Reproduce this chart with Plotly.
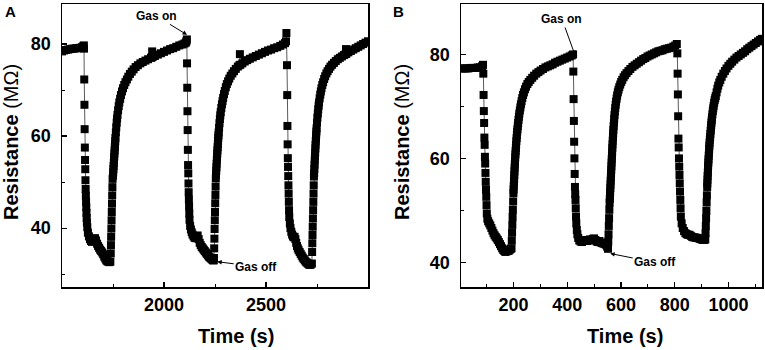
import plotly.graph_objects as go

# ---------------- data ----------------
# Panel A: (time s, resistance MOhm)
PANEL_A = [
    (1500, 78.4), (1510, 78.6), (1520, 78.7), (1530, 78.8), (1540, 78.9), (1550, 79.0), (1560, 79.0),
    (1570, 79.1), (1580, 79.1), (1590, 79.2), (1598, 79.3), (1604, 79.5), (1607, 79.7),
    (1608, 79.0), (1609, 72.3), (1610, 66.8), (1611, 61.5), (1612, 57.5), (1613, 54.8), (1614, 52.8),
    (1615, 50.4), (1616, 48.5), (1617, 47.0), (1618, 45.7), (1619, 44.5), (1620, 43.3), (1621, 42.2),
    (1622, 41.2), (1624, 40.2),
    (1627, 39.0), (1632, 38.2), (1637, 37.6), (1642, 37.2), (1647, 37.0), (1652, 37.3), (1657, 37.7),
    (1662, 37.8), (1667, 37.3), (1672, 36.6), (1677, 36.1), (1682, 35.7), (1687, 35.3), (1692, 35.0),
    (1697, 34.7), (1702, 34.3), (1707, 33.8), (1712, 33.4), (1717, 33.0), (1722, 32.8), (1727, 32.7),
    (1732, 32.6), (1737, 32.7),
    (1739, 34.5), (1740, 36.3), (1741, 38.1), (1742, 39.9), (1743, 41.7), (1744, 43.5), (1745, 45.3),
    (1746, 47.1), (1747, 48.9), (1748, 50.7),
    (1750, 51.4), (1751, 52.1), (1752, 52.8), (1753, 53.5), (1754, 54.2), (1755, 54.9), (1756, 55.5),
    (1757, 56.2), (1758, 56.9), (1759, 57.6), (1760, 58.2), (1761, 58.9), (1762, 59.6), (1764, 60.8),
    (1766, 61.9), (1768, 62.9), (1770, 63.8), (1772, 64.6), (1775, 65.6), (1778, 66.5), (1781, 67.3),
    (1785, 68.1), (1789, 68.9), (1794, 69.7), (1799, 70.4), (1805, 71.1), (1811, 71.7), (1818, 72.3),
    (1825, 72.9), (1833, 73.5), (1842, 74.0), (1851, 74.5), (1861, 75.0), (1872, 75.4), (1884, 75.8),
    (1896, 76.1), (1909, 76.4), (1922, 76.7), (1936, 77.0), (1940, 77.1), (1942, 78.4), (1944, 77.2),
    (1955, 77.4), (1970, 77.7), (1985, 78.0), (2000, 78.3), (2015, 78.6), (2030, 78.9), (2045, 79.1),
    (2060, 79.4), (2075, 79.7), (2090, 79.9), (2100, 80.1), (2107, 80.3), (2110, 80.6), (2112, 81.0),
    (2113, 75.8), (2114, 70.5), (2115, 65.4), (2116, 61.3), (2117, 57.0), (2118, 53.7), (2119, 51.9),
    (2120, 49.7), (2121, 47.8), (2122, 46.2), (2123, 44.7), (2124, 43.2), (2125, 41.8),
    (2128, 40.5), (2132, 39.7), (2136, 39.1), (2140, 38.6), (2145, 38.2), (2150, 37.9), (2155, 37.8),
    (2160, 38.2), (2165, 38.4), (2170, 37.6), (2175, 36.8), (2180, 36.3), (2185, 35.9), (2190, 35.6),
    (2195, 35.3), (2200, 35.0), (2205, 34.7), (2210, 34.4), (2215, 34.1), (2220, 33.8), (2225, 33.6),
    (2230, 33.4), (2235, 33.2), (2240, 33.0), (2244, 33.0),
    (2245, 33.5), (2246, 35.6), (2247, 37.7), (2248, 39.8), (2249, 41.7), (2250, 43.5), (2251, 45.4),
    (2252, 47.2), (2253, 49.0), (2254, 50.8),
    (2255, 51.6), (2256, 52.4), (2257, 53.2), (2258, 54.0), (2259, 54.8), (2260, 55.5), (2261, 56.2),
    (2262, 56.9), (2263, 57.6), (2264, 58.3), (2265, 58.9), (2266, 59.6), (2267, 60.2), (2268, 60.8),
    (2270, 61.8), (2272, 62.8), (2274, 63.7), (2276, 64.5), (2278, 65.2), (2281, 66.1), (2284, 66.9),
    (2287, 67.6), (2290, 68.3), (2294, 69.1), (2298, 69.8), (2303, 70.6), (2308, 71.3), (2314, 71.9),
    (2320, 72.5), (2327, 73.1), (2335, 73.6), (2343, 74.1), (2352, 74.6), (2362, 75.1), (2370, 75.4),
    (2372, 77.8), (2374, 75.5), (2384, 75.8), (2396, 76.2), (2408, 76.5), (2421, 76.8), (2435, 77.1),
    (2450, 77.4), (2465, 77.7), (2480, 78.0), (2495, 78.3), (2510, 78.6), (2525, 78.8), (2540, 79.1),
    (2555, 79.3), (2570, 79.6), (2583, 79.9), (2593, 80.2), (2598, 80.6), (2600, 82.4),
    (2603, 75.4), (2604, 68.9), (2605, 62.2), (2606, 58.2), (2607, 55.2), (2608, 53.3), (2609, 51.3),
    (2610, 49.3), (2611, 47.5), (2612, 45.7), (2613, 43.9), (2614, 42.4),
    (2617, 41.0), (2620, 40.0), (2624, 39.2), (2628, 38.6), (2632, 38.2), (2636, 38.0), (2640, 38.1),
    (2644, 37.6), (2648, 36.8), (2652, 36.1), (2656, 35.6), (2660, 35.2), (2665, 34.8), (2670, 34.4),
    (2675, 34.0), (2680, 33.6), (2685, 33.3), (2690, 33.0), (2695, 32.7), (2700, 32.5), (2705, 32.3),
    (2710, 32.1), (2715, 32.0), (2720, 32.1), (2725, 32.3),
    (2726, 34.8), (2727, 36.7), (2728, 38.5), (2729, 40.3), (2730, 42.1), (2731, 43.9), (2732, 45.7),
    (2733, 47.5), (2734, 49.3), (2735, 51.2),
    (2736, 52.0), (2737, 52.9), (2738, 53.8), (2739, 54.7), (2740, 55.6), (2741, 56.4), (2742, 57.3),
    (2743, 58.1), (2744, 58.9), (2745, 59.6), (2746, 60.3), (2747, 61.0), (2748, 61.7), (2750, 62.9),
    (2752, 64.0), (2754, 64.9), (2756, 65.8), (2758, 66.6), (2760, 67.3), (2763, 68.2), (2766, 69.0),
    (2769, 69.7), (2772, 70.4), (2776, 71.1), (2780, 71.7), (2785, 72.4), (2790, 73.0), (2796, 73.6),
    (2802, 74.1), (2809, 74.6), (2816, 75.1), (2824, 75.5), (2833, 75.9), (2842, 76.3), (2852, 76.7),
    (2862, 77.0), (2872, 77.3), (2882, 77.6), (2890, 77.8), (2892, 78.9), (2894, 77.9), (2904, 78.2),
    (2916, 78.5), (2928, 78.8), (2940, 79.1), (2952, 79.4), (2964, 79.7), (2976, 80.0), (2988, 80.3),
    (3000, 80.6),
]

# Panel B: (time s, resistance MOhm)
PANEL_B = [
    (5, 77.3), (14, 77.3), (23, 77.3), (32, 77.3), (41, 77.4), (50, 77.4), (59, 77.4), (68, 77.5),
    (76, 77.5), (83, 77.7), (87, 78.0),
    (88, 76.3), (89, 72.2), (90, 69.1), (91, 66.8), (92, 64.0), (93, 62.6), (94, 60.3), (95, 59.0),
    (96, 57.2), (97, 55.5), (98, 54.0), (99, 52.6), (100, 51.0), (101, 49.4),
    (103, 48.4), (106, 47.9), (110, 47.5), (114, 47.1), (118, 46.6), (122, 46.1), (126, 45.6),
    (130, 45.2), (134, 44.9), (138, 44.6), (142, 44.3), (146, 43.9), (150, 43.5), (154, 43.1),
    (158, 42.7), (162, 42.4), (166, 42.2), (170, 42.0), (174, 42.1), (178, 42.3), (182, 42.2),
    (186, 42.4), (190, 42.6), (193, 42.7),
    (194, 44.2), (195, 45.7), (196, 47.2), (197, 48.7), (198, 50.1), (199, 51.7), (200, 53.3),
    (200.7, 54.0), (201.3, 54.7), (202, 55.4), (202.7, 56.1), (203.3, 56.8), (204, 57.5), (204.7, 58.2),
    (205.3, 58.9), (206, 59.5), (206.8, 60.2), (207.6, 60.8), (208.4, 61.4), (209.2, 62.0), (210, 62.6),
    (211, 63.3), (212, 63.9), (213, 64.5), (214, 65.1), (215, 65.6), (216.3, 66.2), (217.6, 66.8),
    (219, 67.4), (220.5, 68.0), (222, 68.6), (224, 69.2), (226, 69.8), (228, 70.4), (230.5, 71.0),
    (233, 71.6), (236, 72.2), (239, 72.7), (243, 73.3), (247, 73.8), (252, 74.3), (257, 74.7),
    (263, 75.1), (270, 75.5), (277, 75.9), (285, 76.3), (293, 76.6), (301, 76.9), (310, 77.2),
    (319, 77.5), (328, 77.7), (337, 77.9), (346, 78.1), (355, 78.4), (364, 78.6), (373, 78.8),
    (382, 79.0), (391, 79.2), (400, 79.4), (409, 79.6), (417, 79.8), (422, 80.0),
    (423, 76.7), (424, 71.4), (425, 67.2), (426, 63.2), (427, 60.0), (428, 57.0), (429, 54.5),
    (430, 53.1), (431, 52.0), (432, 50.4), (433, 48.8), (434, 47.5),
    (436, 46.2), (438, 45.4), (441, 44.7), (445, 44.2), (450, 44.0), (455, 43.9), (460, 44.1),
    (465, 44.2), (470, 44.3), (475, 44.1), (480, 44.3), (485, 44.4), (490, 44.2), (495, 44.5),
    (500, 44.6), (505, 44.3), (510, 44.0), (515, 43.9), (520, 44.1), (525, 43.8), (530, 43.7),
    (535, 43.6), (540, 43.5), (546, 43.3), (549, 43.0), (552, 42.6),
    (553, 44.0), (554, 45.4), (555, 47.0), (556, 48.5), (557, 50.1), (558, 51.5),
    (558.7, 52.2), (559.4, 52.9), (560, 53.6), (560.7, 54.3), (561.4, 55.0), (562, 55.7), (562.7, 56.4),
    (563.4, 57.1), (564, 57.8), (564.7, 58.5), (565.4, 59.2), (566, 59.9), (566.7, 60.6), (567.4, 61.3),
    (568, 62.0), (568.8, 62.7), (569.6, 63.4), (570.4, 64.1), (571.2, 64.8), (572, 65.5), (573, 66.2),
    (574, 66.9), (575, 67.6), (576.2, 68.3), (577.5, 69.0), (579, 69.7), (580.5, 70.3), (582, 70.9),
    (584, 71.5), (586, 72.1), (588.5, 72.7), (591, 73.2), (594, 73.7), (597.5, 74.2), (601, 74.7),
    (605, 75.1), (610, 75.6), (615, 76.0), (621, 76.4), (628, 76.8), (635, 77.2), (643, 77.6),
    (651, 77.9), (659, 78.2), (667, 78.5), (675, 78.8), (683, 79.1), (691, 79.3), (699, 79.6),
    (707, 79.8), (715, 80.0), (723, 80.2), (731, 80.4), (739, 80.6), (747, 80.7), (755, 80.8),
    (763, 81.0), (771, 81.1), (779, 81.2), (787, 81.3), (795, 81.5), (802, 81.7), (808, 82.0),
    (810, 80.2), (811, 76.3), (812, 72.3), (813, 68.1), (814, 63.8), (815, 62.1), (816, 60.0),
    (817, 58.4), (818, 56.8), (819, 55.2), (820, 53.6), (821, 52.0), (822, 50.4), (823, 48.8),
    (826, 47.5), (830, 46.6), (835, 46.0), (840, 45.6), (845, 45.4), (850, 45.3), (855, 45.3),
    (860, 45.1), (865, 44.9), (870, 44.8), (875, 44.8), (880, 44.7), (885, 44.7), (890, 44.6),
    (895, 44.5), (900, 44.4), (905, 44.3), (910, 44.3), (914, 44.4),
    (915, 45.6), (916, 47.0), (917, 48.5), (918, 49.9), (919, 51.5), (920, 52.9), (921, 54.5),
    (921.6, 55.2), (922.2, 55.9), (922.8, 56.6), (923.4, 57.3), (924, 58.0), (924.6, 58.6), (925.3, 59.2),
    (926, 59.8), (926.8, 60.5), (927.6, 61.1), (928.4, 61.8), (929.2, 62.4), (930, 63.0), (931, 63.6),
    (932, 64.1), (933, 64.7), (934, 65.3), (935, 65.8), (936, 66.4), (937, 66.9), (938, 67.4),
    (939, 67.9), (940.5, 68.5), (942, 69.1), (943.5, 69.6), (945, 70.1), (947, 70.7), (949, 71.2),
    (951, 71.6), (953, 72.0), (956, 72.7), (959, 73.4), (962, 74.0), (966, 74.6), (970, 75.1),
    (975, 75.7), (981, 76.3), (987, 76.8), (993, 77.3), (1000, 77.8), (1007, 78.2), (1014, 78.6),
    (1022, 79.0), (1030, 79.4), (1038, 79.7), (1046, 80.0), (1054, 80.3), (1062, 80.6), (1070, 81.0),
    (1078, 81.3), (1086, 81.6), (1094, 81.9), (1102, 82.2), (1110, 82.5), (1118, 82.8), (1125, 83.0),
]

A_X_RANGE = [1500, 3000]
A_Y_RANGE = [27.2, 88.7]
A_X_TICKS = [2000, 2500]
A_X_MINOR = [1750, 2250, 2750]
A_Y_TICKS = [40, 60, 80]
A_Y_MINOR = [30, 50, 70]

B_X_RANGE = [5, 1125]
B_Y_RANGE = [35.25, 89.7]
B_X_TICKS = [200, 400, 600, 800, 1000]
B_X_MINOR = [100, 300, 500, 700, 900, 1100]
B_Y_TICKS = [40, 60, 80]
B_Y_MINOR = [50, 70]

# ---------------- figure ----------------
W, H = 765, 350
FONT = "Liberation Sans, Arial, sans-serif"

ta, ra = zip(*PANEL_A)
tb, rb = zip(*PANEL_B)

fig = go.Figure()
common_trace = dict(
    mode="lines+markers",
    marker=dict(symbol="square", size=8, color="black", line=dict(width=0)),
    line=dict(color="rgb(90,90,90)", width=1),
    showlegend=False,
    hoverinfo="skip",
)
fig.add_trace(go.Scatter(x=ta, y=ra, xaxis="x", yaxis="y", **common_trace))
fig.add_trace(go.Scatter(x=tb, y=rb, xaxis="x2", yaxis="y2", **common_trace))

ydom = [1 - 287 / H, 1 - 4 / H]
axis_common = dict(
    showline=True, linecolor="black", linewidth=1.5, mirror=True,
    ticks="inside", ticklen=5, tickwidth=1.2, tickcolor="black",
    showgrid=False, zeroline=False,
    tickfont=dict(family=FONT, size=18, color="black", weight="bold"),
)


def minor(vals):
    return dict(tickvals=vals, ticks="inside", ticklen=3, tickwidth=1, tickcolor="black", showgrid=False)


fig.update_layout(
    width=W, height=H,
    margin=dict(l=0, r=0, t=0, b=0),
    paper_bgcolor="white", plot_bgcolor="white",
    font=dict(family=FONT, color="black"),
    xaxis=dict(domain=[62 / W, 368 / W], range=A_X_RANGE, tickvals=A_X_TICKS,
               minor=minor(A_X_MINOR), anchor="y", ticklabelstandoff=1, **axis_common),
    yaxis=dict(domain=ydom, range=A_Y_RANGE, tickvals=A_Y_TICKS,
               minor=minor(A_Y_MINOR), anchor="x", ticklabelstandoff=6, **axis_common),
    xaxis2=dict(domain=[461 / W, 762 / W], range=B_X_RANGE, tickvals=B_X_TICKS,
                minor=minor(B_X_MINOR), anchor="y2", ticklabelstandoff=1, **axis_common),
    yaxis2=dict(domain=ydom, range=B_Y_RANGE, tickvals=B_Y_TICKS,
                minor=minor(B_Y_MINOR), anchor="x2", ticklabelstandoff=6, **axis_common),
)

ann = []
# panel letters
ann.append(dict(text="<b>A</b>", x=10 / W, y=1 - 12 / H, xref="paper", yref="paper",
                showarrow=False, font=dict(family=FONT, size=15, color="black"),
                xanchor="center", yanchor="middle"))
ann.append(dict(text="<b>B</b>", x=398 / W, y=1 - 11 / H, xref="paper", yref="paper",
                showarrow=False, font=dict(family=FONT, size=15, color="black"),
                xanchor="center", yanchor="middle"))
# axis titles
for xc in (11, 402):
    ann.append(dict(text="<b>Resistance</b> (MΩ)", x=xc / W, y=1 - 142 / H, xref="paper", yref="paper",
                    showarrow=False, textangle=-90, font=dict(family=FONT, size=20, color="black"),
                    xanchor="center", yanchor="middle"))
for xc in (236, 625):
    ann.append(dict(text="<b>Time (s)</b>", x=xc / W, y=1 - 336 / H, xref="paper", yref="paper",
                    showarrow=False, font=dict(family=FONT, size=20, color="black"),
                    xanchor="center", yanchor="middle"))
# gas on / off
arrow = dict(showarrow=True, arrowhead=2, arrowsize=0.9, arrowwidth=1, arrowcolor="black",
             font=dict(family=FONT, size=12, color="black"))
ann.append(dict(text="<b>Gas on</b>", x=2113, y=82.0, xref="x", yref="y", ax=-31, ay=-19, **arrow))
ann.append(dict(text="<b>Gas off</b>", x=2261, y=32.7, xref="x", yref="y", ax=39, ay=5, **arrow))
ann.append(dict(text="<b>Gas on</b>", x=429, y=79.9, xref="x2", yref="y2", ax=-13, ay=-36, **arrow))
ann.append(dict(text="<b>Gas off</b>", x=560, y=41.7, xref="x2", yref="y2", ax=45, ay=9, **arrow))
fig.update_layout(annotations=ann)

fig.write_html(
    "out.html",
    config={"displayModeBar": False, "staticPlot": True},
    post_script="document.body.style.margin='0';document.body.style.overflow='hidden';",
)
